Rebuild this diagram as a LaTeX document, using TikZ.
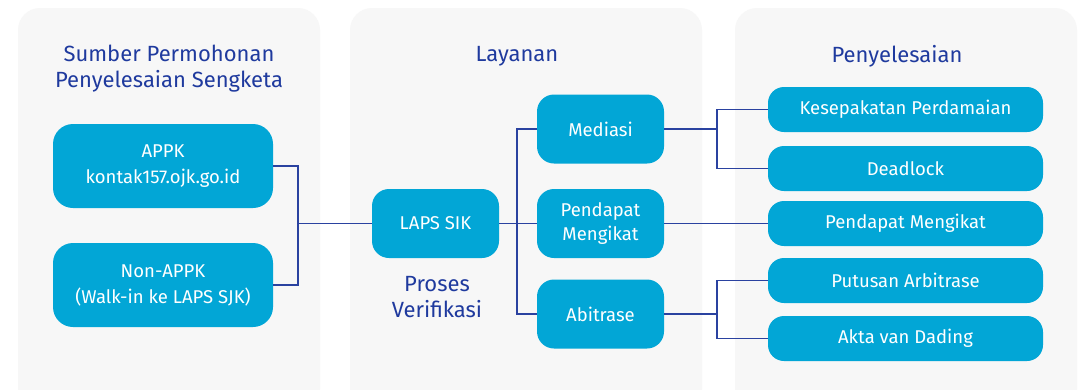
\documentclass[tikz,border=0pt]{standalone}
\usepackage{fontspec}
\setmainfont{Fira Sans}
\definecolor{panelbg}{HTML}{F7F7F7}
\definecolor{boxbg}{HTML}{02A6D6}
\definecolor{titleblue}{HTML}{1F3A9E}
\definecolor{linkblue}{HTML}{2A42A0}
\begin{document}
\begin{tikzpicture}[x=1pt,y=-1pt,
  panel/.style={fill=panelbg,draw=none,rounded corners=22pt},
  bigbox/.style={fill=boxbg,draw=none,text=white,rounded corners=20pt,align=center,font=\fontsize{18.5}{26}\selectfont,inner sep=0pt},
  midbox/.style={fill=boxbg,draw=none,text=white,rounded corners=17pt,align=center,font=\fontsize{18.5}{24}\selectfont,inner sep=0pt,minimum width=127pt,minimum height=69pt},
  resbox/.style={fill=boxbg,draw=none,text=white,rounded corners=16pt,align=center,font=\fontsize{18.5}{24}\selectfont,inner sep=0pt,minimum width=275pt,minimum height=45pt},
  ttl/.style={text=titleblue,align=center,font=\fontsize{22}{26}\selectfont},
  link/.style={draw=linkblue,line width=1.3pt}
]
\useasboundingbox (0,0) rectangle (1079,389);
\clip (0,0) rectangle (1079,389);
\fill[white] (0,0) rectangle (1079,389);
% panels
\path[panel] (18,8) rectangle (320,420);
\path[panel] (350,8) rectangle (702,420);
\path[panel] (735,8) rectangle (1077,420);
% titles
\node[ttl] (t1) at (169,69) {Sumber Permohonan\\Penyelesaian Sengketa};
\node[ttl] (t2) at (517,56) {Layanan};
\node[ttl] (t3) at (897,56) {Penyelesaian};
\node[ttl] (pv) at (437,297) {Proses\\Verifikasi};
% left boxes
\node[bigbox,minimum width=220pt,minimum height=84pt] (appk) at (163,166) {APPK\\kontak157.ojk.go.id};
\node[bigbox,minimum width=220pt,minimum height=84pt] (nappk) at (163,285) {Non-APPK\\(Walk-in ke LAPS SJK)};
% middle
\node[midbox] (laps) at (435.5,223.5) {LAPS SIK};
\node[midbox] (med) at (600.5,129) {Mediasi};
\node[midbox] (pm) at (600.5,223.5) {Pendapat\\Mengikat};
\node[midbox] (abi) at (600.5,314) {Abitrase};
% right
\node[resbox] (kp) at (905.5,109.5) {Kesepakatan Perdamaian};
\node[resbox] (dl) at (905.5,168.5) {Deadlock};
\node[resbox] (pm2) at (905.5,223.5) {Pendapat Mengikat};
\node[resbox] (pa) at (905.5,280.5) {Putusan Arbitrase};
\node[resbox] (ad) at (905.5,338.5) {Akta van Dading};
% connectors
\coordinate (j1) at (298,223.5);
\draw[link] (appk.east) -| (j1);
\draw[link] (nappk.east) -| (j1);
\draw[link] (j1) -- (laps.west);
\coordinate (j2) at (517,223.5);
\draw[link] (laps.east) -- (pm.west);
\draw[link] (med.west) -| (j2);
\draw[link] (abi.west) -| (j2);
\coordinate (j3) at (717,129);
\draw[link] (med.east) -- (j3);
\draw[link] (kp.west) -| (j3);
\draw[link] (dl.west) -| (j3);
\draw[link] (pm.east) -- (pm2.west);
\coordinate (j4) at (717,314);
\draw[link] (abi.east) -- (j4);
\draw[link] (pa.west) -| (j4);
\draw[link] (ad.west) -| (j4);
\end{tikzpicture}
\end{document}
